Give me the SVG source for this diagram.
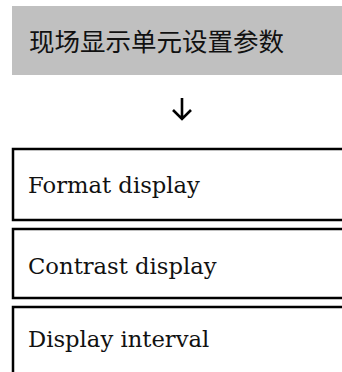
<svg xmlns="http://www.w3.org/2000/svg" width="342" height="372" viewBox="0 0 342 372">
<style>
.box{fill:#fff;stroke:#000;stroke-width:2.5}
.t{font-family:"DejaVu Serif","Liberation Serif",serif;font-size:22.7px;fill:#111}
.cjk{font-family:"Noto Sans CJK SC",sans-serif;font-size:25.5px;fill:#111}
</style>
<rect width="342" height="372" fill="#fff"/>
<g id="header">
<rect x="12" y="6" width="340" height="69" fill="#c0c0c0"/>
<text class="cjk" x="29" y="51">现场显示单元设置参数</text>
</g>
<g id="connectors">
<path d="M182 98V119M173 110L182 119L191 110" fill="none" stroke="#000" stroke-width="2.6"/>
</g>
<g id="format">
<rect class="box" x="13" y="149" width="340" height="71"/>
<text class="t" x="28" y="193">Format display</text>
</g>
<g id="contrast">
<rect class="box" x="13" y="229" width="340" height="69"/>
<text class="t" x="28" y="274">Contrast display</text>
</g>
<g id="interval">
<rect class="box" x="13" y="307" width="340" height="80"/>
<text class="t" x="28" y="347">Display interval</text>
</g>
</svg>
